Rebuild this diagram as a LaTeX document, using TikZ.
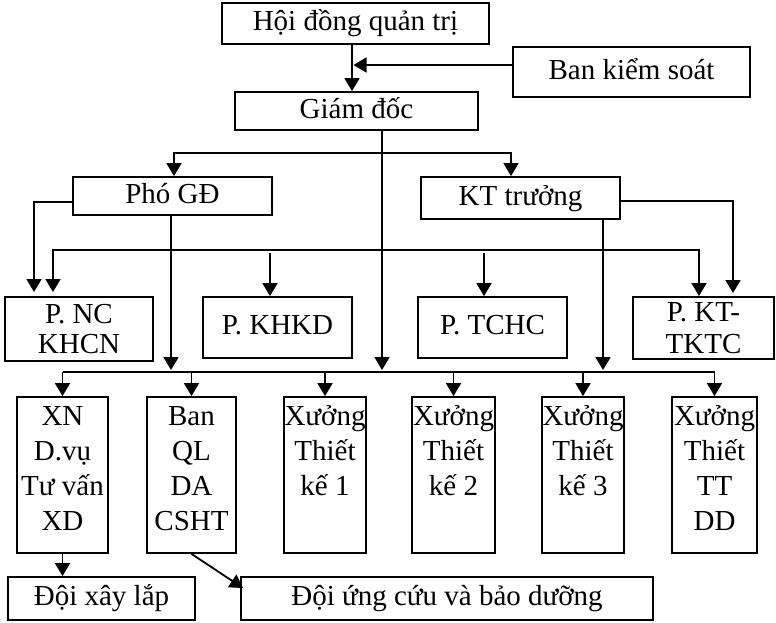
\documentclass[tikz,border=0pt]{standalone}
\usepackage{fontspec}
\setmainfont{Liberation Serif}
\usetikzlibrary{arrows.meta}
\newcommand\fsz{\fontsize{29}{35}\selectfont}
\begin{document}
\begin{tikzpicture}[x=1pt,y=-1pt,
  lw/.style={line width=1.8pt},
  box/.style={draw, lw, inner sep=0pt, font=\fsz, align=center},
  one/.style={box, text height=20pt, text depth=6pt},
  txt/.style={inner sep=0pt, font=\fsz, align=center, anchor=north},
  arr/.style={lw, -{Triangle[length=13pt,width=15pt]}},
  arrboth/.style={lw, {Triangle[length=13pt,width=15pt]}-{Triangle[length=13pt,width=15pt]}}]
\useasboundingbox (0,0) rectangle (776,622);

% boxes
\node[one, minimum width=267pt, minimum height=41pt] (hdqt) at (355.5,23.5) {Hội đồng quản trị};
\node[one, minimum width=237pt, minimum height=50pt] (bks) at (631.5,72) {Ban kiểm soát};
\node[one, minimum width=243pt, minimum height=38pt] (gd) at (356.5,111) {Giám đốc};
\node[one, minimum width=199pt, minimum height=38pt] (pgd) at (172.5,196) {Phó GĐ};
\node[one, minimum width=199pt, minimum height=42pt] (ktt) at (520.5,198) {KT trưởng};
\node[box, minimum width=148pt, minimum height=64pt] (pnc) at (79,329) {P. NC\\[-5pt]KHCN};
\node[one, minimum width=149pt, minimum height=61pt] (pkhkd) at (277.5,327.5) {P. KHKD};
\node[one, minimum width=149pt, minimum height=61pt] (ptchc) at (492.5,327.5) {P. TCHC};
\node[box, minimum width=141pt, minimum height=62pt] (pkt) at (703.5,328) {P. KT-\\[-3pt]TKTC};

\node[box, minimum width=91pt, minimum height=156pt] (xn) at (62.5,475) {};
\node[box, minimum width=89pt, minimum height=156pt] (bql) at (191.5,475) {};
\node[box, minimum width=82pt, minimum height=156pt] (x1) at (325,475) {};
\node[box, minimum width=83pt, minimum height=156pt] (x2) at (453.5,475) {};
\node[box, minimum width=82pt, minimum height=156pt] (x3) at (583,475) {};
\node[box, minimum width=85pt, minimum height=156pt] (xtt) at (714.5,475) {};
\node[txt] (xnT) at ([yshift=-5pt]xn.north) {\strut XN\\D.vụ\\Tư vấn\\XD};
\node[txt] (bqlT) at ([yshift=-5pt]bql.north) {\strut Ban\\QL\\DA\\CSHT};
\node[txt] (x1T) at ([yshift=-5pt]x1.north) {\strut Xưởng\\Thiết\\kế 1};
\node[txt] (x2T) at ([yshift=-5pt]x2.north) {\strut Xưởng\\Thiết\\kế 2};
\node[txt] (x3T) at ([yshift=-5pt]x3.north) {\strut Xưởng\\Thiết\\kế 3};
\node[txt] (xttT) at ([yshift=-5pt]xtt.north) {\strut Xưởng\\Thiết\\TT\\DD};

\node[one, minimum width=187pt, minimum height=43pt] (dxl) at (101.5,598.5) {Đội xây lắp};
\node[one, minimum width=412pt, minimum height=43pt] (duc) at (447,598.5) {Đội ứng cứu và bảo dưỡng};

% connectors
\coordinate (vA) at (352,0);
\draw[arr] (hdqt.south -| vA) -- (gd.north -| vA);
\coordinate (kA) at (353.5,65);
\draw[arr] (bks.west |- kA) -- (kA);

\coordinate (vG) at (382,370);
\draw[arr] (gd.south -| vG) -- (vG);
\coordinate (b1L) at (174,153);
\coordinate (b1R) at (511,153);
\draw[arrboth] (pgd.north -| b1L) -- (b1L) -- (b1R) -- (ktt.north -| b1R);

\coordinate (c1) at (34,202);
\coordinate (c1e) at (34,292);
\draw[arr] (pgd.west |- c1) -- (c1) -- (c1e);
\coordinate (c2) at (733,201);
\coordinate (c2e) at (733,293);
\draw[arr] (ktt.east |- c2) -- (c2) -- (c2e);

\coordinate (b2L) at (53,250);
\coordinate (b2R) at (699,250);
\coordinate (b2Le) at (53,292);
\coordinate (b2Re) at (699,296);
\draw[arrboth] (b2Le) -- (b2L) -- (b2R) -- (b2Re);
\coordinate (k1) at (270,253);
\draw[arr] (k1) -- (pkhkd.north -| k1);
\coordinate (k2) at (484,253);
\draw[arr] (k2) -- (ptchc.north -| k2);

\coordinate (vP) at (171,370);
\draw[arr] (pgd.south -| vP) -- (vP);
\coordinate (vK) at (603,370);
\draw[arr] (ktt.south -| vK) -- (vK);

\coordinate (b3) at (0,372);
\draw[lw] (xn.north |- b3) -- (xtt.north |- b3);
\foreach \n in {xn,bql,x1,x2,x3,xtt}
  \draw[arr] (\n.north |- b3) -- (\n.north);

\draw[arr] (xn.south) -- (dxl.north -| xn.south);
\coordinate (dE) at (243,588);
\draw[arr] (bql.south) -- (dE);
\end{tikzpicture}
\end{document}
